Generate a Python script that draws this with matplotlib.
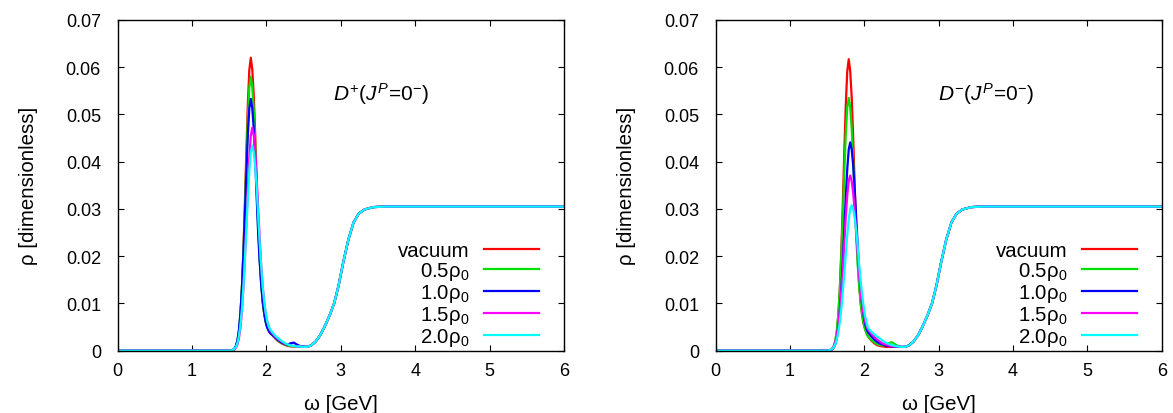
import matplotlib
matplotlib.use("Agg")
import matplotlib.pyplot as plt
from matplotlib.ticker import FixedLocator, FixedFormatter

plt.rcParams['font.family'] = ['Liberation Sans', 'DejaVu Sans']
plt.rcParams['mathtext.fontset'] = 'custom'
plt.rcParams['mathtext.rm'] = 'Liberation Sans'
plt.rcParams['mathtext.it'] = 'Liberation Sans:italic'

# ---------------- data ----------------
labels = ['vacuum', '0.5ρ$_{\\mathregular{0}}$', '1.0ρ$_{\\mathregular{0}}$',
          '1.5ρ$_{\\mathregular{0}}$', '2.0ρ$_{\\mathregular{0}}$']
colors = ['#ff0000', '#00e000', '#0000ff', '#ff00ff', '#00ffff']
titles = [r'$D^{+}(J^{P}\!=\!0^{-})$', r'$D^{-}(J^{P}\!=\!0^{-})$']

omega_zero = [0.0, 1.45, 1.51]
rho_zero = [0.0, 0.0, 0.0]

omega_peak = [1.53, 1.55, 1.57, 1.59, 1.61, 1.63, 1.65, 1.67, 1.69, 1.71, 1.73, 1.75, 1.77,
              1.79, 1.81, 1.83, 1.85, 1.87, 1.89, 1.91, 1.93, 1.95, 1.97, 1.99, 2.01, 2.03, 2.05]
omega_tail = [2.09, 2.13, 2.17, 2.21, 2.25, 2.29, 2.33, 2.37, 2.41, 2.45, 2.49]
omega_rise = [2.54, 2.60, 2.66, 2.72, 2.78, 2.85, 2.91, 2.97, 3.03, 3.10, 3.17, 3.24, 3.32,
              3.44, 3.60, 4.0, 5.0, 6.0]
rho_rise = [0.0008, 0.0011, 0.0019, 0.0032, 0.0050, 0.0075, 0.0100, 0.0138, 0.0185, 0.0234,
            0.0271, 0.0290, 0.0299, 0.0304, 0.0305, 0.0305, 0.0305, 0.0305]

# D+ panel
dplus_vac_peak = [0.00004, 0.00012, 0.00033, 0.00082, 0.0019, 0.0039, 0.0074, 0.0131, 0.0210, 0.0310,
                  0.0420, 0.0521, 0.0594, 0.0620, 0.0595, 0.0539, 0.0453, 0.0353, 0.0267, 0.0198,
                  0.0146, 0.0105, 0.0079, 0.0062, 0.0051, 0.0044, 0.0038]
dplus_vac_tail = [0.0031, 0.0024, 0.0019, 0.0015, 0.0012, 0.0010, 0.0009, 0.0009, 0.0008, 0.0008, 0.0008]
dplus_05_peak = [0.00005, 0.00015, 0.00038, 0.00091, 0.0020, 0.0041, 0.0076, 0.0131, 0.0205, 0.0298,
                 0.0400, 0.0491, 0.0557, 0.0580, 0.0558, 0.0508, 0.0428, 0.0336, 0.0255, 0.0191,
                 0.0141, 0.0103, 0.0077, 0.0060, 0.0050, 0.0043, 0.0039]
dplus_05_tail = [0.0032, 0.0025, 0.0020, 0.0016, 0.0013, 0.0011, 0.0010, 0.0009, 0.0009, 0.0008, 0.0008]
dplus_10_peak = [0.00007, 0.00019, 0.00046, 0.00105, 0.0022, 0.0043, 0.0078, 0.0130, 0.0200, 0.0284,
                 0.0375, 0.0456, 0.0513, 0.0533, 0.0513, 0.0469, 0.0400, 0.0320, 0.0245, 0.0187,
                 0.0139, 0.0104, 0.0080, 0.0061, 0.0049, 0.0042, 0.0037]
dplus_10_tail = [0.0032, 0.0026, 0.0021, 0.0017, 0.0014, 0.0013, 0.0016, 0.0017, 0.0013, 0.0010, 0.0009]
dplus_15_peak = [0.00004, 0.00011, 0.00028, 0.00062, 0.0013, 0.0026, 0.0048, 0.0082, 0.0131, 0.0193,
                 0.0266, 0.0342, 0.0409, 0.0455, 0.0472, 0.0456, 0.0420, 0.0363, 0.0297, 0.0236,
                 0.0179, 0.0137, 0.0104, 0.0080, 0.0063, 0.0051, 0.0043]
dplus_15_tail = [0.0035, 0.0028, 0.0023, 0.0019, 0.0015, 0.0013, 0.0011, 0.0010, 0.0009, 0.0009, 0.0008]
dplus_20_peak = [0.00007, 0.00017, 0.00039, 0.00082, 0.0016, 0.0031, 0.0054, 0.0087, 0.0134, 0.0191,
                 0.0257, 0.0323, 0.0381, 0.0420, 0.0434, 0.0420, 0.0388, 0.0343, 0.0282, 0.0226,
                 0.0178, 0.0135, 0.0104, 0.0080, 0.0063, 0.0052, 0.0045]
dplus_20_tail = [0.0037, 0.0030, 0.0025, 0.0020, 0.0016, 0.0013, 0.0011, 0.0010, 0.0009, 0.0009, 0.0008]

# D- panel
dminus_vac_peak = [0.00004, 0.00012, 0.00033, 0.00081, 0.0019, 0.0039, 0.0073, 0.0130, 0.0209, 0.0308,
                   0.0418, 0.0518, 0.0591, 0.0617, 0.0592, 0.0536, 0.0450, 0.0350, 0.0264, 0.0195,
                   0.0143, 0.0102, 0.0076, 0.0058, 0.0046, 0.0037, 0.0030]
dminus_vac_tail = [0.0022, 0.0016, 0.0012, 0.0010, 0.0009, 0.0008, 0.0008, 0.0008, 0.0008, 0.0008, 0.0008]
dminus_05_peak = [0.00007, 0.00019, 0.00046, 0.00105, 0.0022, 0.0043, 0.0078, 0.0130, 0.0201, 0.0285,
                  0.0376, 0.0458, 0.0515, 0.0535, 0.0515, 0.0470, 0.0401, 0.0320, 0.0244, 0.0184,
                  0.0136, 0.0100, 0.0075, 0.0057, 0.0045, 0.0036, 0.0030]
dminus_05_tail = [0.0023, 0.0018, 0.0014, 0.0012, 0.0011, 0.0012, 0.0016, 0.0018, 0.0014, 0.0010, 0.0008]
dminus_10_peak = [0.00005, 0.00013, 0.00031, 0.00068, 0.0014, 0.0027, 0.0049, 0.0082, 0.0127, 0.0186,
                  0.0254, 0.0323, 0.0384, 0.0426, 0.0441, 0.0426, 0.0392, 0.0340, 0.0282, 0.0225,
                  0.0172, 0.0132, 0.0099, 0.0075, 0.0057, 0.0046, 0.0039]
dminus_10_tail = [0.0031, 0.0024, 0.0019, 0.0015, 0.0013, 0.0011, 0.0010, 0.0009, 0.0009, 0.0008, 0.0008]
dminus_15_peak = [0.00010, 0.00023, 0.00050, 0.00098, 0.0018, 0.0033, 0.0055, 0.0085, 0.0126, 0.0175,
                  0.0229, 0.0283, 0.0329, 0.0360, 0.0371, 0.0359, 0.0334, 0.0297, 0.0252, 0.0204,
                  0.0160, 0.0124, 0.0096, 0.0078, 0.0063, 0.0052, 0.0045]
dminus_15_tail = [0.0037, 0.0030, 0.0024, 0.0019, 0.0015, 0.0013, 0.0011, 0.0010, 0.0009, 0.0009, 0.0008]
dminus_20_peak = [0.00010, 0.00020, 0.00041, 0.00078, 0.0014, 0.0024, 0.0039, 0.0060, 0.0088, 0.0123,
                  0.0162, 0.0205, 0.0245, 0.0278, 0.0300, 0.0308, 0.0299, 0.0282, 0.0256, 0.0222,
                  0.0182, 0.0148, 0.0119, 0.0095, 0.0074, 0.0059, 0.0048]
dminus_20_tail = [0.0041, 0.0035, 0.0030, 0.0026, 0.0021, 0.0017, 0.0014, 0.0012, 0.0010, 0.0009, 0.0008]

xticks = [0, 1, 2, 3, 4, 5, 6]
yticks = [0, 0.01, 0.02, 0.03, 0.04, 0.05, 0.06, 0.07]
ytick_labels = ['0', '0.01', '0.02', '0.03', '0.04', '0.05', '0.06', '0.07']

panels = [
    [(dplus_vac_peak, dplus_vac_tail), (dplus_05_peak, dplus_05_tail), (dplus_10_peak, dplus_10_tail),
     (dplus_15_peak, dplus_15_tail), (dplus_20_peak, dplus_20_tail)],
    [(dminus_vac_peak, dminus_vac_tail), (dminus_05_peak, dminus_05_tail), (dminus_10_peak, dminus_10_tail),
     (dminus_15_peak, dminus_15_tail), (dminus_20_peak, dminus_20_tail)],
]
title_x = [2.89, 2.99]

omega_all = omega_zero + omega_peak + omega_tail + omega_rise

# ---------------- figure ----------------
fig = plt.figure(figsize=(11.73, 4.14), dpi=100)
ax_rects = [[0.1003, 0.1505, 0.3805, 0.7988], [0.6101, 0.1505, 0.3803, 0.7988]]
TICK_FS = 13
LAB_FS = 14.7

for i, rect in enumerate(ax_rects):
    ax = fig.add_axes(rect)
    for (pk, tl), lab, col in zip(panels[i], labels, colors):
        rho = rho_zero + pk + tl + rho_rise
        ax.plot(omega_all, rho, color=col, lw=1.6, label=lab)
    ax.set_xlim(0, 6)
    ax.set_ylim(0, 0.07)
    ax.xaxis.set_major_locator(FixedLocator(xticks))
    ax.yaxis.set_major_locator(FixedLocator(yticks))
    ax.yaxis.set_major_formatter(FixedFormatter(ytick_labels))
    ax.tick_params(direction='in', length=4.5, width=0.8, top=True, right=True,
                   labelsize=TICK_FS, colors='black')
    ax.tick_params(axis='y', pad=12)
    ax.tick_params(axis='x', pad=8)
    for sp in ax.spines.values():
        sp.set_linewidth(1.0)
    ax.set_xlabel('ω [GeV]', fontsize=LAB_FS, va='center')
    ax.xaxis.set_label_coords(0.5, -0.160)
    ax.set_ylabel('ρ [dimensionless]', fontsize=LAB_FS, va='center')
    ax.yaxis.set_label_coords(-0.200, 0.5)
    ax.text(title_x[i], 0.0545, titles[i], fontsize=15, ha='left', va='center')
    ax.legend(loc='lower right', bbox_to_anchor=(0.944, 0.008), frameon=False,
              markerfirst=False, alignment='right', fontsize=LAB_FS,
              handlelength=2.7, handletextpad=0.7, labelspacing=0.0,
              borderpad=0.0, borderaxespad=0.0)

fig.savefig('out.png', dpi=100)
